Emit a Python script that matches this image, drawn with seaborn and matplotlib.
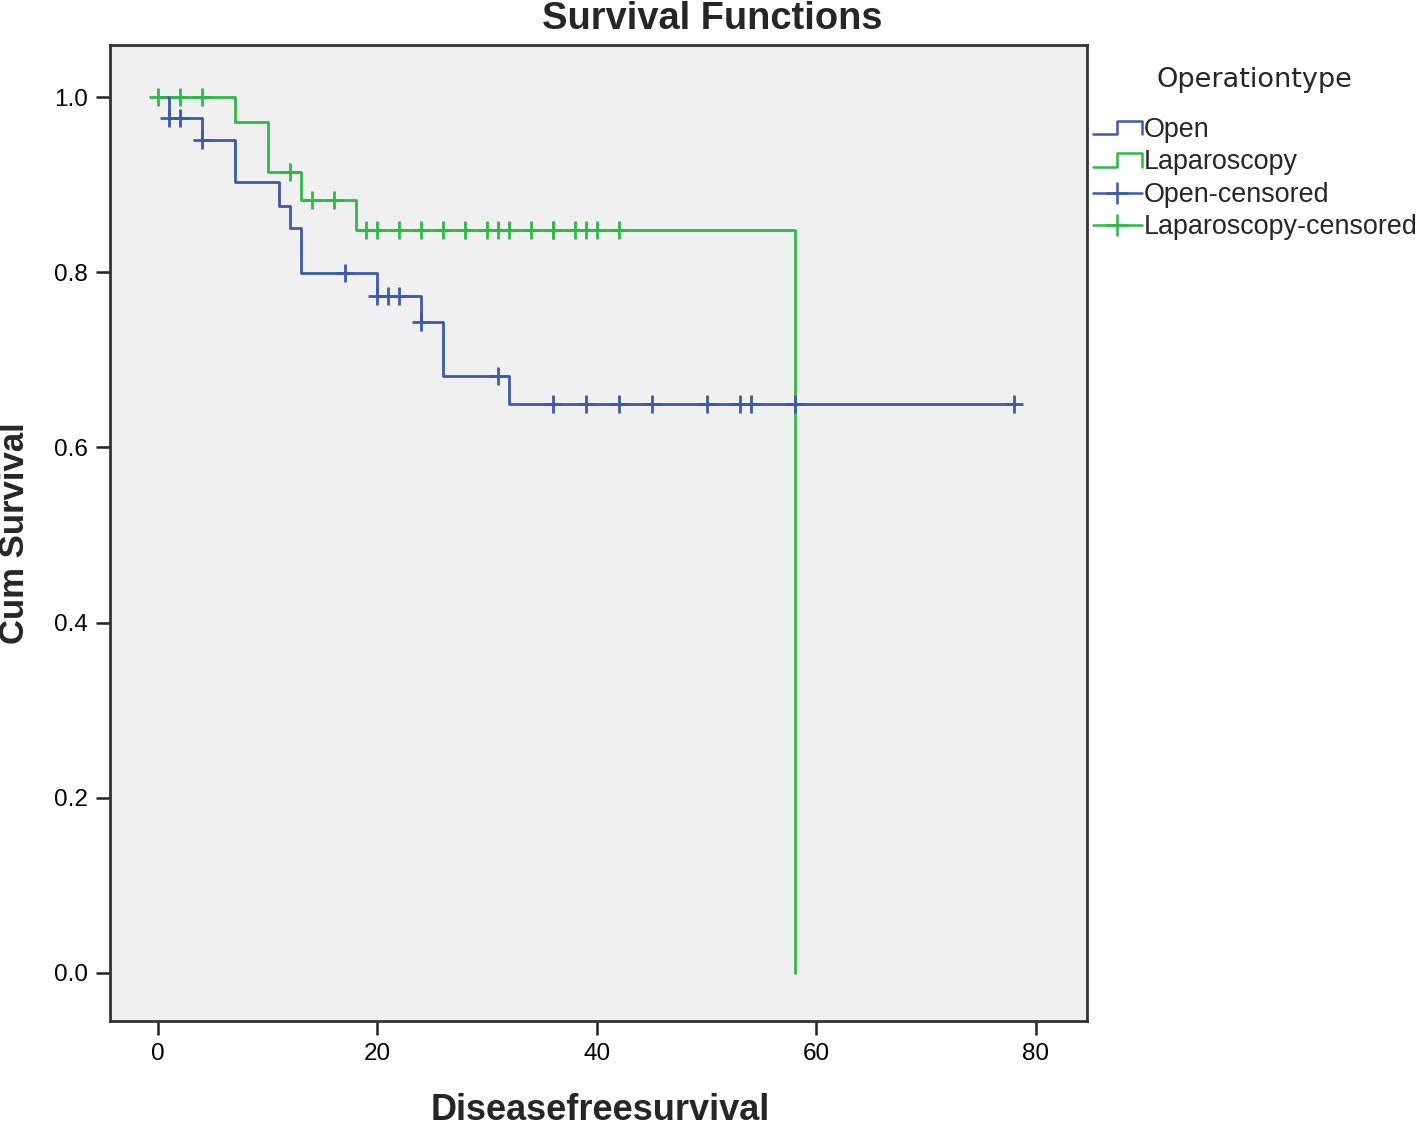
import matplotlib
matplotlib.use("Agg")
import matplotlib.pyplot as plt
import seaborn as sns
import pandas as pd
from matplotlib.lines import Line2D
from matplotlib.legend_handler import HandlerBase

# step curves (time, cumulative survival)
open_time = [0, 1, 4, 7, 11, 12, 13, 20, 24, 26, 32, 78]
open_surv = [1.0, 0.976, 0.951, 0.903, 0.876, 0.850, 0.799, 0.773, 0.743, 0.681, 0.650, 0.650]
lap_time = [0, 7, 10, 13, 18, 58]
lap_surv = [1.0, 0.971, 0.914, 0.883, 0.848, 0.0]

# censored observations
open_cens_time = [1, 2, 4, 17, 20, 21, 22, 24, 31, 36, 39, 42, 45, 50, 53, 54, 58, 78]
open_cens_surv = [0.976, 0.976, 0.951, 0.799, 0.773, 0.773, 0.773, 0.743, 0.681,
                  0.650, 0.650, 0.650, 0.650, 0.650, 0.650, 0.650, 0.650, 0.650]
lap_cens_time = [0, 2, 4, 12, 14, 16, 19, 20, 22, 24, 26, 28, 30, 31, 32, 34, 36, 36, 38, 39, 40, 42]
lap_cens_surv = [1.0, 1.0, 1.0, 0.914, 0.883, 0.883] + [0.848] * 16

colors = {"Open": "#3E58AC", "Laparoscopy": "#2EB848"}
xticks = [0, 20, 40, 60, 80]
yticks = [0.0, 0.2, 0.4, 0.6, 0.8, 1.0]

curves = pd.concat([
    pd.DataFrame({"t": lap_time, "s": lap_surv, "Operationtype": "Laparoscopy"}),
    pd.DataFrame({"t": open_time, "s": open_surv, "Operationtype": "Open"}),
])
cens = pd.concat([
    pd.DataFrame({"t": lap_cens_time, "s": lap_cens_surv, "Operationtype": "Laparoscopy"}),
    pd.DataFrame({"t": open_cens_time, "s": open_cens_surv, "Operationtype": "Open"}),
])

sns.set_style("ticks", {"axes.facecolor": "#F0F0F0", "axes.edgecolor": "#333333"})
plt.rcParams["font.family"] = ["Liberation Sans", "DejaVu Sans"]

fig = plt.figure(figsize=(14.18, 11.25), dpi=100)
ax = fig.add_axes([110 / 1418, 1 - 1021 / 1125, 977 / 1418, 976 / 1125])

sns.lineplot(data=curves, x="t", y="s", hue="Operationtype", hue_order=["Laparoscopy", "Open"],
             palette=colors, drawstyle="steps-post", estimator=None, sort=False,
             linewidth=2, ax=ax, legend=False)
for g in ["Laparoscopy", "Open"]:
    sub = cens[cens.Operationtype == g]
    ax.plot(sub.t, sub.s, linestyle="none", marker="+", markersize=13,
            markeredgewidth=2, color=colors[g])

ax.set_xlim(-4.37, 84.65)
ax.set_ylim(-0.0548, 1.0594)
ax.set_xticks(xticks)
ax.set_yticks(yticks)
ax.set_xticklabels([str(v) for v in xticks])
ax.set_yticklabels([f"{v:.1f}" for v in yticks])
ax.tick_params(labelsize=17.5, length=10, width=1.8, color="#222222",
               labelcolor="black", pad=6)
for sp in ax.spines.values():
    sp.set_linewidth(2)
ax.set_xlabel("")
ax.set_ylabel("")

fig.text(712 / 1418, 1 - 19 / 1125, "Survival Functions", ha="center", va="center",
         fontsize=27.4, fontweight="bold")
fig.text(600 / 1418, 1 - 1110 / 1125, "Diseasefreesurvival", ha="center", va="center",
         fontsize=26, fontweight="bold")
fig.text(15 / 1418, 1 - 533 / 1125, "Cum Survival", ha="center", va="center",
         rotation=90, fontsize=25, fontweight="bold")


class StepHandler(HandlerBase):
    def create_artists(self, legend, orig_handle, xdescent, ydescent, width, height,
                       fontsize, trans):
        x0, y0 = -xdescent, -ydescent
        xs = [x0, x0 + width * 0.5, x0 + width * 0.5, x0 + width, x0 + width]
        ys = [y0 + height * 0.15, y0 + height * 0.15, y0 + height * 0.85,
              y0 + height * 0.85, y0 + height * 0.15]
        ln = Line2D(xs, ys, color=orig_handle.get_color(), linewidth=1.8)
        ln.set_transform(trans)
        return [ln]


h_open = Line2D([], [], color=colors["Open"])
h_lap = Line2D([], [], color=colors["Laparoscopy"])
h_oc = Line2D([], [], color=colors["Open"], marker="+", markersize=16, markeredgewidth=1.8, linewidth=1.8)
h_lc = Line2D([], [], color=colors["Laparoscopy"], marker="+", markersize=16, markeredgewidth=1.8, linewidth=1.8)
leg = fig.legend([h_open, h_lap, h_oc, h_lc],
                 ["Open", "Laparoscopy", "Open-censored", "Laparoscopy-censored"],
                 handler_map={h_open: StepHandler(), h_lap: StepHandler()},
                 loc="upper left", bbox_to_anchor=(1093 / 1418, 1 - 117 / 1125),
                 frameon=False, fontsize=19.4, numpoints=1, handlelength=1.8,
                 handletextpad=0.1, labelspacing=0.24, borderpad=0, borderaxespad=0)
fig.text(1254 / 1418, 1 - 80 / 1125, "Operationtype", ha="center", va="center",
         fontsize=19.5, family=["DejaVu Sans"])

fig.savefig("out.png", dpi=100, facecolor="white")
